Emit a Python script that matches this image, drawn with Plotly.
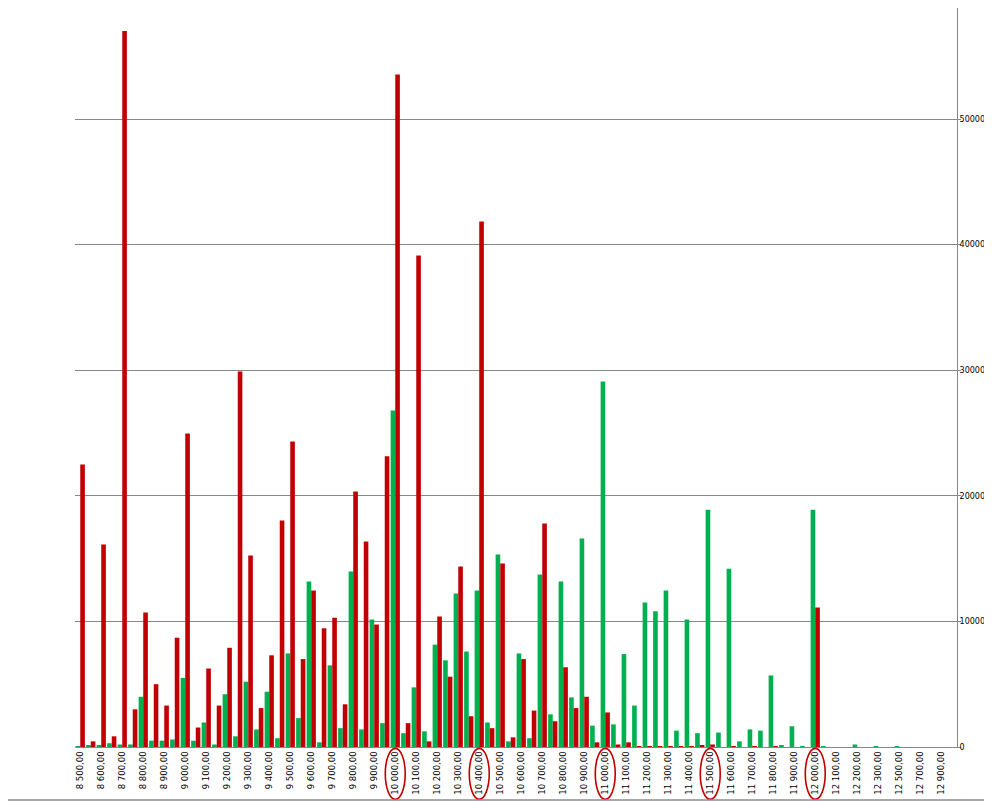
import plotly.graph_objects as go

# Strike prices (categories)
categories = [8500 + 50 * i for i in range(77)] + [12400, 12500, 12600, 12700, 12800, 12900, 13000]

green_values = [
    50, 100, 100, 300, 200, 200, 4000, 500, 500, 600,
    5500, 500, 1950, 200, 4200, 850, 5200, 1400, 4400, 700,
    7450, 2300, 13180, 370, 6500, 1500, 13980, 1400, 10150, 1900,
    26800, 1100, 4750, 1250, 8150, 6900, 12230, 7600, 12470, 1950,
    15330, 450, 7450, 700, 13740, 2600, 13180, 3950, 16600, 1700,
    29100, 1800, 7400, 3300, 11500, 10800, 12470, 1300, 10150, 1100,
    18900, 1150, 14200, 450, 1400, 1300, 5700, 150, 1650, 50,
    18900, 50, 0, 0, 200, 0, 50, 0, 50, 0,
    0, 0, 0, 0,
]

red_values = [
    22500, 450, 16130, 850, 57000, 3000, 10700, 5000, 3300, 8700,
    24970, 1550, 6250, 3300, 7900, 29900, 15250, 3100, 7300, 18040,
    24330, 7000, 12460, 9450, 10300, 3400, 20350, 16370, 9750, 23140,
    53550, 1900, 39140, 450, 10400, 5600, 14380, 2450, 41850, 1500,
    14620, 770, 7000, 2900, 17800, 2050, 6350, 3100, 4000, 370,
    2750, 200, 370, 50, 50, 50, 50, 50, 50, 130,
    200, 0, 50, 0, 50, 0, 50, 0, 0, 0,
    11100, 0, 0, 0, 0, 0, 0, 0, 0, 0,
    0, 0, 0, 0,
]

highlighted = [10000, 10400, 11000, 11500, 12000]
y_ticks = [0, 10000, 20000, 30000, 40000, 50000]


def fmt(v):
    return f"{int(v):,}".replace(",", " ") + ",00"


labels = [fmt(c) for c in categories]
tick_vals = labels[::2]

RED = "#C00000"
GREEN = "#00B050"
GRID = "#878787"

fig = go.Figure()
fig.add_trace(go.Bar(x=labels, y=green_values, marker=dict(color=GREEN, line=dict(width=0)), name="calls"))
fig.add_trace(go.Bar(x=labels, y=red_values, marker=dict(color=RED, line=dict(width=0)), name="puts"))

shapes = []
for h in highlighted:
    idx = categories.index(h)
    shapes.append(dict(type="circle", xref="x", yref="paper",
                       x0=idx - 0.95, x1=idx + 0.95, y0=-0.0708, y1=-0.0018,
                       line=dict(color=RED, width=1.6)))
# outer frame lines (bottom and right)
shapes.append(dict(type="line", xref="paper", yref="paper", x0=-0.08, x1=1.0385, y0=-0.0717, y1=-0.0717,
                   line=dict(color="#8c8c8c", width=1.5)))
shapes.append(dict(type="line", xref="paper", yref="paper", x0=1.0385, x1=1.0385, y0=-0.0717, y1=1.0,
                   line=dict(color="#8c8c8c", width=1.5)))

fig.update_layout(
    width=984, height=794,
    margin=dict(l=67, r=35, t=0, b=55, pad=0),
    paper_bgcolor="white", plot_bgcolor="white",
    barmode="group", bargap=0.12, bargroupgap=0,
    showlegend=False,
    shapes=shapes,
    font=dict(family="DejaVu Sans", size=8.5, color="black"),
    xaxis=dict(type="category", range=[-0.5, len(categories) - 0.5],
               tickmode="array", tickvals=tick_vals, ticktext=tick_vals,
               tickangle=-90, showgrid=False, showline=True, linecolor=GRID, linewidth=1,
               ticks="", tickfont=dict(family="DejaVu Sans", size=8.5, color="black")),
    yaxis=dict(side="right", range=[0, 58840], tickmode="array", tickvals=y_ticks,
               ticktext=[str(v) for v in y_ticks],
               showgrid=True, gridcolor=GRID, gridwidth=1, zeroline=False,
               showline=True, linecolor=GRID, linewidth=1,
               ticks="outside", ticklen=3, tickcolor=GRID, ticklabelstandoff=-3,
               tickfont=dict(family="DejaVu Sans", size=8, color="black")),
)

fig.write_html("out.html")
